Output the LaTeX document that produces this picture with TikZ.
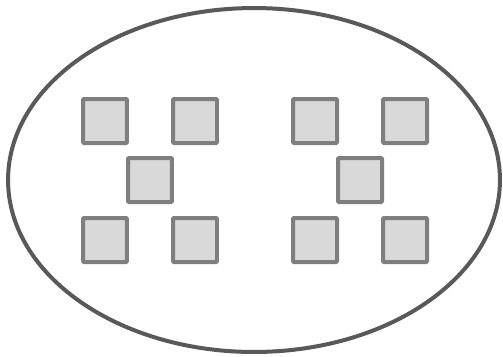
\documentclass[tikz,border=0pt]{standalone}
\usetikzlibrary{shapes,positioning}
\definecolor{rimgray}{HTML}{595959}
\definecolor{cellgray}{HTML}{7F7F7F}
\definecolor{cellfill}{HTML}{D9D9D9}
\tikzstyle{universe} = [ellipse, draw=rimgray, line width=0.08cm,
    minimum width=9.84cm, minimum height=6.88cm, inner sep=0pt]
\tikzstyle{cell} = [rectangle, draw=cellgray, fill=cellfill, line width=0.08cm,
    rounded corners=0.02cm, minimum size=0.88cm, inner sep=0pt]
\begin{document}
\begin{tikzpicture}[x=0.02cm, y=-0.02cm]
    \useasboundingbox (0,0) rectangle (503,356);
    \node[universe] (universe) at (254,180) {};

    \node[cell] (leftTopA) at (105,121) {};
    \node[cell] (leftTopB) at (195,121) {};
    \node[cell] (leftMid) at (150,180) {};
    \node[cell] (leftBotA) at (105,240) {};
    \node[cell] (leftBotB) at (195,240) {};

    \node[cell] (rightTopA) at (315,121) {};
    \node[cell] (rightTopB) at (405,121) {};
    \node[cell] (rightMid) at (360,180) {};
    \node[cell] (rightBotA) at (315,240) {};
    \node[cell] (rightBotB) at (405,240) {};
\end{tikzpicture}
\end{document}
